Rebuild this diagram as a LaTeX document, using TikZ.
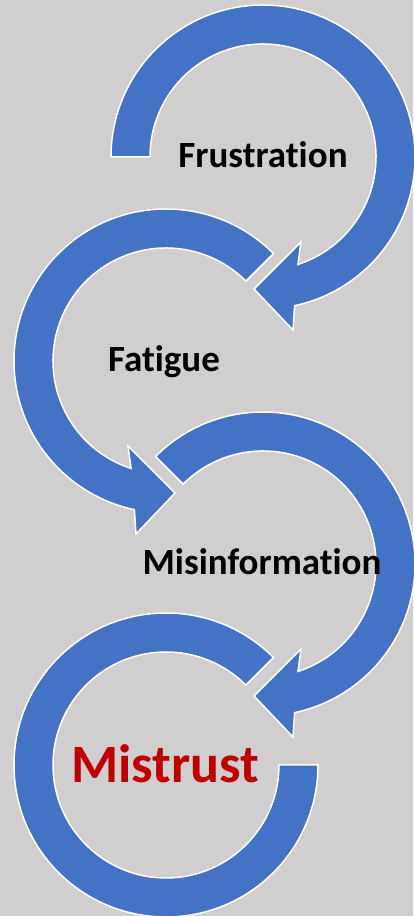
\documentclass[tikz,border=0pt]{standalone}
\usepackage{fontspec}
\setmainfont[Ligatures=NoCommon]{Carlito}
\usetikzlibrary{calc}
\definecolor{bggray}{HTML}{D0CECE}
\definecolor{arrowblue}{HTML}{4472C4}
\definecolor{darkred}{HTML}{C00000}
\begin{document}
\begin{tikzpicture}[x=1pt,y=1pt,
  band/.style={fill=arrowblue,draw=white,line width=1.5pt,line join=miter},
  lbl/.style={font=\bfseries\fontsize{37}{44}\selectfont,text=black,inner sep=0pt,anchor=base},
  lastlbl/.style={font=\bfseries\fontsize{54}{62}\selectfont,text=darkred,inner sep=0pt,anchor=base}]
\useasboundingbox (0,0) rectangle (413,916);
\fill[bggray] (0,0) rectangle (413,916);
\coordinate (c1) at (263,759);
\coordinate (c2) at (166,555);
\coordinate (c3) at (263,352);
\coordinate (c4) at (166,151);
% arrow 1: tail at left, head at bottom pointing left
\path[band] ($(c1)+(180:152)$) arc[start angle=180,end angle=-78,radius=152]
  -- ($(c1)+(30,-173)$) -- ($(c1)+(-9,-132)$) -- ($(c1)+(38,-85)$)
  -- ($(c1)+(-72:113)$) arc[start angle=-72,end angle=180,radius=113] -- cycle;
% arrow 2: mirrored, tail at upper right
\path[band] ($(c2)+(45:152)$) arc[start angle=45,end angle=258,radius=152]
  -- ($(c2)+(-30,-173)$) -- ($(c2)+(9,-132)$) -- ($(c2)+(-38,-85)$)
  -- ($(c2)+(252:113)$) arc[start angle=252,end angle=45,radius=113] -- cycle;
% arrow 3: tail at upper left
\path[band] ($(c3)+(135:152)$) arc[start angle=135,end angle=-78,radius=152]
  -- ($(c3)+(30,-173)$) -- ($(c3)+(-9,-132)$) -- ($(c3)+(38,-85)$)
  -- ($(c3)+(-72:113)$) arc[start angle=-72,end angle=135,radius=113] -- cycle;
% arrow 4: no head
\path[band] ($(c4)+(45:152)$) arc[start angle=45,end angle=360,radius=152]
  -- ($(c4)+(0:113)$) arc[start angle=360,end angle=45,radius=113] -- cycle;
\node[lbl] (t1) at (263,748) {Frustration};
\node[lbl] (t2) at (164,544) {Fatigue};
\node[lbl] (t3) at (262,341) {Misinformation};
\node[lastlbl] (t4) at (165,133) {Mistrust};
\end{tikzpicture}
\end{document}
